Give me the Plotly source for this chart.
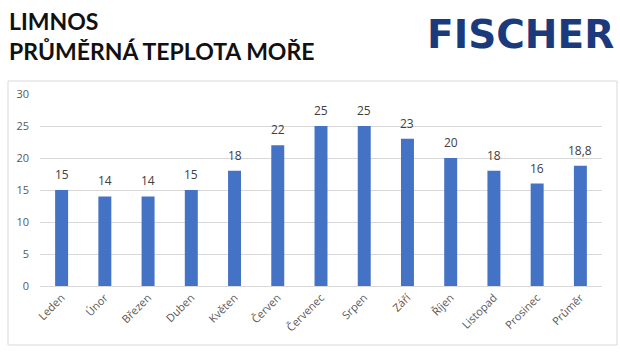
import plotly.graph_objects as go

months = ["Leden", "Únor", "Březen", "Duben", "Květen", "Červen", "Červenec",
          "Srpen", "Září", "Říjen", "Listopad", "Prosinec", "Průměr"]
temps = [15, 14, 14, 15, 18, 22, 25, 25, 23, 20, 18, 16, 18.8]
labels = [str(v).replace(".", ",") if isinstance(v, float) else str(v) for v in temps]
y_ticks = [0, 5, 10, 15, 20, 25, 30]

fig = go.Figure(go.Bar(
    x=months, y=temps, marker=dict(color="#4472C4", line=dict(width=0)),
    hoverinfo="skip",
))

L, R, T, B = 40, 18, 94, 66
W, H = 620, 352
pw, ph = W - L - R, H - T - B

value_labels = [
    dict(text=t, x=m, y=v, xref="x", yref="y", xanchor="center", yanchor="bottom",
         yshift=5, showarrow=False,
         font=dict(family="Open Sans, Liberation Sans, sans-serif", size=12, color="#404040"))
    for m, v, t in zip(months, temps, labels)
]

fig.update_layout(
    width=W, height=H,
    margin=dict(l=L, r=R, t=T, b=B),
    paper_bgcolor="white", plot_bgcolor="white",
    bargap=0.7, showlegend=False,
    font=dict(family="Open Sans, Liberation Sans, sans-serif", color="#595959"),
    xaxis=dict(tickangle=-45, tickfont=dict(size=11, color="#595959"),
               showline=True, linecolor="#d9d9d9", ticks="", showgrid=False),
    yaxis=dict(range=[0, 30], tickvals=y_ticks, tickfont=dict(size=11, color="#595959"),
               showgrid=True, gridcolor="#d9d9d9", zeroline=False, ticks="",
               showline=False, ticklabelstandoff=10),
    shapes=[dict(type="rect", xref="paper", yref="paper",
                 x0=(8 - L) / pw, x1=(617 - L) / pw,
                 y0=(H - B - 345) / ph, y1=(H - B - 81) / ph,
                 line=dict(color="#d9d9d9", width=1), layer="below")],
    annotations=value_labels + [
        dict(text="<b>LIMNOS</b>", xref="paper", yref="paper",
             x=(7 - L) / pw, y=(H - B - 21) / ph, xanchor="left", yanchor="middle",
             showarrow=False, font=dict(family="Lato, Open Sans, sans-serif", size=23, color="#111111")),
        dict(text="<b>PRŮMĚRNÁ TEPLOTA MOŘE</b>", xref="paper", yref="paper",
             x=(7 - L) / pw, y=(H - B - 51) / ph, xanchor="left", yanchor="middle",
             showarrow=False, font=dict(family="Lato, Open Sans, sans-serif", size=23, color="#111111")),
        dict(text="<b>FISCHER</b>", xref="paper", yref="paper",
             x=(616 - L) / pw, y=(H - B - 35) / ph, xanchor="right", yanchor="middle",
             showarrow=False, font=dict(family="DejaVu Sans, sans-serif", size=39, color="#1b3a7c")),
    ],
)

fig.write_html("out.html")
